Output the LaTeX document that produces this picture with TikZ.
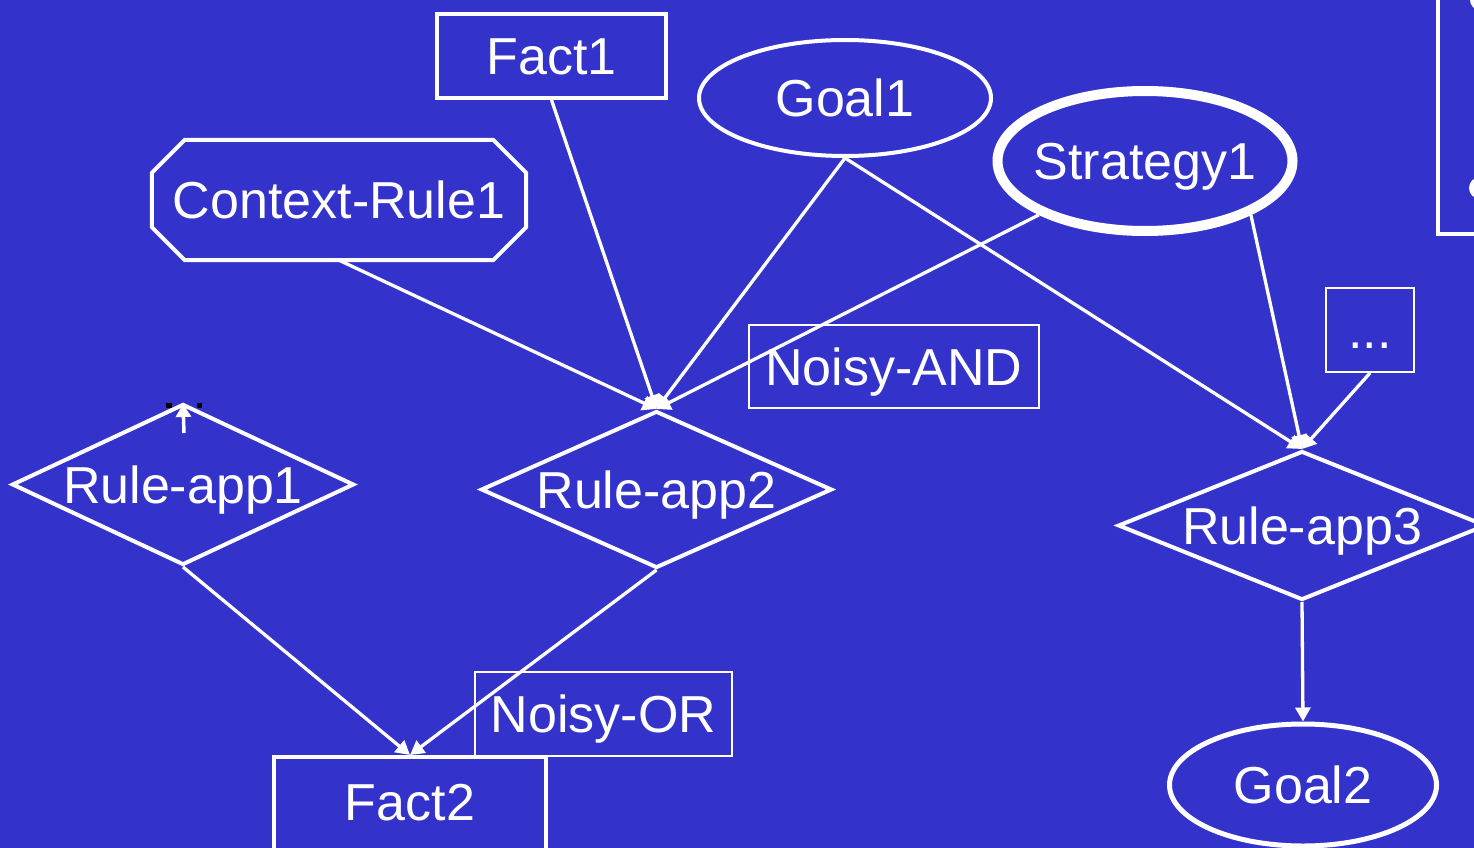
\documentclass[tikz,border=0pt]{standalone}
\usepackage{fontspec}
\setmainfont{Liberation Sans}
\usetikzlibrary{shapes.geometric,arrows.meta,calc}
\definecolor{bgblue}{RGB}{51,51,204}
\begin{document}
\begin{tikzpicture}[x=1pt,y=-1pt,
  txt/.style={text=white,font=\fontsize{52}{60}\selectfont,text height=37pt,text depth=0pt,inner sep=0pt},
  box/.style={draw=white,line width=4pt,rectangle,inner sep=0pt,txt},
  thinbox/.style={draw=white,line width=2pt,rectangle,inner sep=0pt,txt},
  oval/.style={draw=white,line width=4pt,ellipse,inner sep=0pt},
  rhomb/.style={draw=white,line width=4pt,diamond,inner sep=0pt},
  link/.style={draw=white,line width=3.3pt,-{Triangle[length=14pt,width=15pt]}},
  handle/.style={fill=black,draw=none}]
  % page and background
  \fill[bgblue] (0,0) rectangle (1474,848);
  \useasboundingbox (0,0) rectangle (1474,848);

  % top-right panel, partly outside the page
  \draw[white,line width=4pt] (1438,-10) -- (1438,234) -- (1500,234);
  \fill[white] (1480,0) circle (10);
  \fill[white] (1480,188) circle (11);

  % variable nodes
  \node[box,minimum width=229,minimum height=84] (fact1) at (551.5,56) {Fact1};
  \node[oval,minimum width=292,minimum height=116,label={[txt]center:Goal1}] (goal1) at (845,98) {};
  \node[oval,line width=10pt,minimum width=295,minimum height=140,label={[txt]center:Strategy1}] (strat1) at (1145,161) {};
  \node[txt,minimum width=374,minimum height=120] (ctx) at (339,200) {Context-Rule1};
  \draw[white,line width=4pt]
    ($(ctx.north west)+(33,0)$) -- ($(ctx.north east)+(-33,0)$) -- ($(ctx.north east)+(0,33)$)
    -- ($(ctx.south east)+(0,-33)$) -- ($(ctx.south east)+(-33,0)$) -- ($(ctx.south west)+(33,0)$)
    -- ($(ctx.south west)+(0,-33)$) -- ($(ctx.north west)+(0,33)$) -- cycle;

  \node[thinbox,minimum width=290,minimum height=83] (nand) at (894,366.5) {Noisy-AND};
  \node[thinbox,minimum width=88,minimum height=84] (dots) at (1370,330) {...};

  \node[rhomb,minimum width=342,minimum height=161,label={[txt]center:Rule-app1}] (ra1) at (183,484.5) {};
  \node[rhomb,minimum width=351,minimum height=157,label={[txt]center:Rule-app2}] (ra2) at (656.5,489.5) {};
  \node[rhomb,minimum width=368,minimum height=149,label={[txt]center:Rule-app3}] (ra3) at (1302,525.5) {};

  \node[thinbox,minimum width=257,minimum height=84] (nor) at (603.5,714) {Noisy-OR};
  \node[box,minimum width=272,minimum height=100,label={[txt,yshift=5pt]center:Fact2}] (fact2) at (410,807) {};
  \node[oval,line width=5pt,minimum width=267,minimum height=122,label={[txt]center:Goal2}] (goal2) at (1303,785) {};

  % selection handles and the small arrow on Rule-app1
  \fill[handle] (166,403) rectangle (172,408);
  \fill[handle] (197,403) rectangle (202,408);
  \coordinate (stub) at (184,433);
  \draw[link,line width=3.5pt,-{Triangle[length=13pt,width=15pt]}] (stub) -- ($(ra1.north)+(0,2)$);

  % dependencies
  \draw[link] (ctx.south) -- (ra2.north);
  \draw[link] (fact1.south) -- (ra2.north);
  \draw[link] (goal1.south) -- (ra2.north);
  \draw[link] (strat1) -- (ra2.north);
  \draw[link] (goal1.south) -- (ra3.north);
  \draw[link] (strat1.-27) -- (ra3.north);
  \draw[link] (dots.south) -- (ra3.north);
  \draw[link] (ra1.south) -- (fact2.north);
  \draw[link] (ra2.south) -- (fact2.north);
  \draw[link] (ra3.south) -- (goal2.north);
\end{tikzpicture}
\end{document}
